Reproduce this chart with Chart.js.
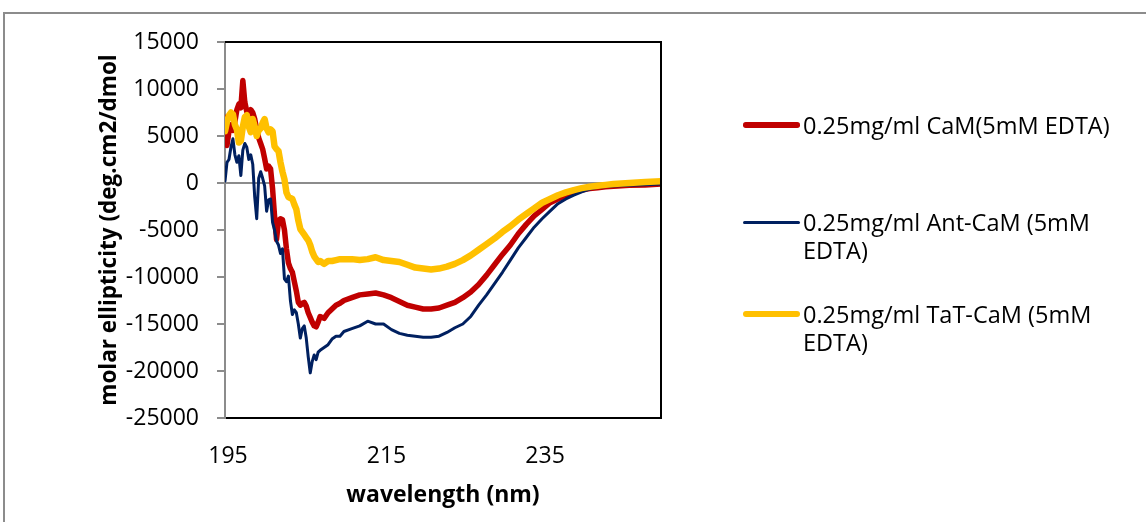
<!DOCTYPE html>
<html>
<head>
<meta charset="utf-8">
<script src="https://cdn.jsdelivr.net/npm/chart.js@4.4.1/dist/chart.umd.min.js"></script>
<style>
html,body{margin:0;padding:0;background:#fff;}
#wrap{position:relative;width:1146px;height:522px;overflow:hidden;background:#fff;}
#c{position:absolute;left:0;top:0;}
.frame{position:absolute;left:3px;top:12px;width:1200px;height:600px;border-left:2px solid #8c8c8c;border-top:2px solid #8c8c8c;}
.leg{position:absolute;left:803px;width:330px;font-family:"Open Sans";font-size:23.5px;line-height:28px;color:#000;white-space:normal;}
.sw{position:absolute;left:743px;width:57px;}
</style>
</head>
<body>
<div id="wrap">
<div class="frame"></div>
<canvas id="c" width="1146" height="522"></canvas>
</div>
<script>
// ---- data ----
const wavelength = [
195.00,195.25,195.50,195.75,196.00,196.25,196.50,196.75,197.00,197.25,197.50,197.75,
198.00,198.25,198.50,198.75,199.00,199.25,199.50,199.75,200.00,200.25,200.50,200.75,
201.00,201.25,201.50,201.75,202.00,202.25,202.50,202.75,203.00,203.25,203.50,203.75,
204.00,204.25,204.50,204.75,205.00,205.25,205.50,205.75,206.00,206.25,206.50,206.75,
207.00,207.5,208,208.5,209,209.5,210,
211,212,213,214,215,216,217,218,219,220,221,222,223,224,225,226,227,228,229,230,
231,232,233,234,235,236,237,238,239,240,241,242,243,244,
246,248,250];

const camEDTA = [
7000,4000,5500,6200,5600,6500,7800,8400,8000,10900,8600,7600,
7300,7800,7500,6800,5700,4800,4200,3600,2600,1500,1800,1500,
-600,-3500,-6000,-4000,-3800,-3900,-5000,-7000,-8500,-9100,-9500,-10500,
-11500,-12700,-13000,-12800,-12700,-13100,-13800,-14300,-14800,-15200,-15300,-14800,
-14200,-14400,-13800,-13400,-13000,-12800,-12500,
-12200,-11900,-11800,-11700,-11900,-12200,-12600,-13000,-13200,-13400,-13400,-13300,-13000,-12700,-12200,-11600,-10800,-9800,-8700,-7600,
-6600,-5400,-4400,-3500,-2800,-2100,-1700,-1300,-1000,-750,-600,-500,-400,-350,
-250,-200,-100];

const antCamEDTA = [
200,2200,2500,3800,4700,3000,2200,2900,800,3500,4200,3800,
2500,3000,2000,-1500,-3800,500,1200,500,-300,-3000,-1800,-1700,
-4200,-5000,-6200,-6600,-7500,-7000,-10200,-10500,-9900,-12500,-14000,-13500,
-13800,-15000,-16500,-15500,-15200,-16500,-18500,-20200,-19000,-18300,-18800,-18000,
-17800,-17500,-17200,-16600,-16300,-16300,-15800,
-15500,-15200,-14700,-15000,-15000,-15600,-16000,-16200,-16300,-16400,-16400,-16300,-15900,-15400,-15000,-14200,-13000,-11900,-10700,-9500,
-8200,-6900,-5800,-4700,-3800,-3000,-2200,-1700,-1300,-950,-650,-450,-380,-330,
-250,-180,-100];

const tatCamEDTA = [
5500,6500,7200,7500,7300,6200,5700,4300,4500,6000,7000,7200,
6000,5400,6800,6000,5000,5600,5800,6400,6800,5800,5400,5700,
5500,3900,3600,3400,2200,1200,400,-1000,-1500,-1600,-1700,-2300,
-2800,-4000,-4900,-5200,-5500,-5800,-6100,-6600,-7300,-7800,-8100,-8400,
-8300,-8600,-8300,-8300,-8200,-8100,-8100,
-8100,-8200,-8100,-7900,-8200,-8300,-8400,-8700,-9000,-9100,-9200,-9100,-8900,-8600,-8200,-7700,-7100,-6500,-5900,-5200,
-4600,-3900,-3300,-2700,-2100,-1700,-1300,-1000,-750,-550,-400,-300,-200,-100,
0,100,200];

const seriesLabels = ['0.25mg/ml CaM(5mM EDTA)', '0.25mg/ml Ant-CaM (5mM EDTA)', '0.25mg/ml TaT-CaM (5mM EDTA)'];
const xTicks = [195, 215, 235];
const yTicks = [15000, 10000, 5000, 0, -5000, -10000, -15000, -20000, -25000];

// ---- styling ----
const colors = ['#C00000', '#002060', '#FFC000'];
const widths = [5.5, 3, 6.5];
const FONT = '"Open Sans"';

const seriesValues = [camEDTA, antCamEDTA, tatCamEDTA];
const datasets = seriesValues.map((vals, i) => ({
  label: seriesLabels[i],
  data: wavelength.map((w, j) => ({x: w, y: vals[j]})),
  borderColor: colors[i],
  backgroundColor: colors[i],
  borderWidth: widths[i],
  pointRadius: 0,
  tension: 0,
  fill: false,
  borderJoinStyle: 'round',
  borderCapStyle: 'round',
  order: 2 - i
}));

const boxPlugin = {
  id: 'box',
  afterDatasetsDraw(chart) {
    const {ctx, chartArea: a} = chart;
    ctx.save();
    ctx.strokeStyle = '#000';
    ctx.lineWidth = 2;
    ctx.beginPath();
    ctx.moveTo(a.left, a.top);
    ctx.lineTo(a.right, a.top);
    ctx.lineTo(a.right, a.bottom);
    ctx.stroke();
    ctx.restore();
  }
};

new Chart(document.getElementById('c'), {
  type: 'line',
  data: {datasets},
  plugins: [boxPlugin],
  options: {
    responsive: false,
    animation: false,
    events: [],
    layout: {padding: {left: 0, top: 42, right: 485, bottom: 0}},
    plugins: {legend: {display: false}, tooltip: {enabled: false}},
    scales: {
      x: {
        type: 'linear',
        min: 195, max: 250,
        afterBuildTicks: s => { s.ticks = xTicks.map(v => ({value: v})); },
        afterFit: s => { s.height = 104; },
        grid: {display: false, drawTicks: false},
        border: {display: true, color: '#000', width: 2},
        ticks: {font: {family: FONT, size: 23}, color: '#000', padding: 25, labelOffset: 3, maxRotation: 0,
                callback: v => String(v)},
        title: {display: true, text: 'wavelength (nm)', color: '#000',
                font: {family: FONT, size: 23, weight: 'bold'}, padding: {top: 0, bottom: 13}}
      },
      y: {
        type: 'linear',
        min: -25000, max: 15000,
        afterBuildTicks: s => { s.ticks = yTicks.map(v => ({value: v})); },
        afterFit: s => { s.width = 225; },
        grid: {
          color: c => (c.tick && c.tick.value === 0) ? '#8c8c8c' : 'rgba(0,0,0,0)',
          tickColor: '#8c8c8c', tickLength: 8, lineWidth: 2
        },
        border: {display: true, color: '#8c8c8c', width: 2},
        ticks: {font: {family: FONT, size: 23}, color: '#000', padding: 18, callback: v => String(v)},
        title: {display: true, text: 'molar ellipticity (deg.cm2/dmol', color: '#000',
                font: {family: FONT, size: 22.5, weight: 'bold'}, padding: {top: 96, bottom: 0}}
      }
    }
  }
});

// ---- legend (HTML) ----
const wrap = document.getElementById('wrap');
const legendCenters = [125, 222, 314];
seriesLabels.forEach((lab, i) => {
  const sw = document.createElement('div');
  sw.className = 'sw';
  sw.style.top = (legendCenters[i] - widths[i] / 2) + 'px';
  sw.style.height = widths[i] + 'px';
  sw.style.background = colors[i];
  sw.style.borderRadius = (widths[i] / 2) + 'px';
  wrap.appendChild(sw);
  const t = document.createElement('div');
  t.className = 'leg';
  t.style.top = (legendCenters[i] - 14) + 'px';
  t.textContent = lab;
  wrap.appendChild(t);
});
</script>
</body>
</html>
